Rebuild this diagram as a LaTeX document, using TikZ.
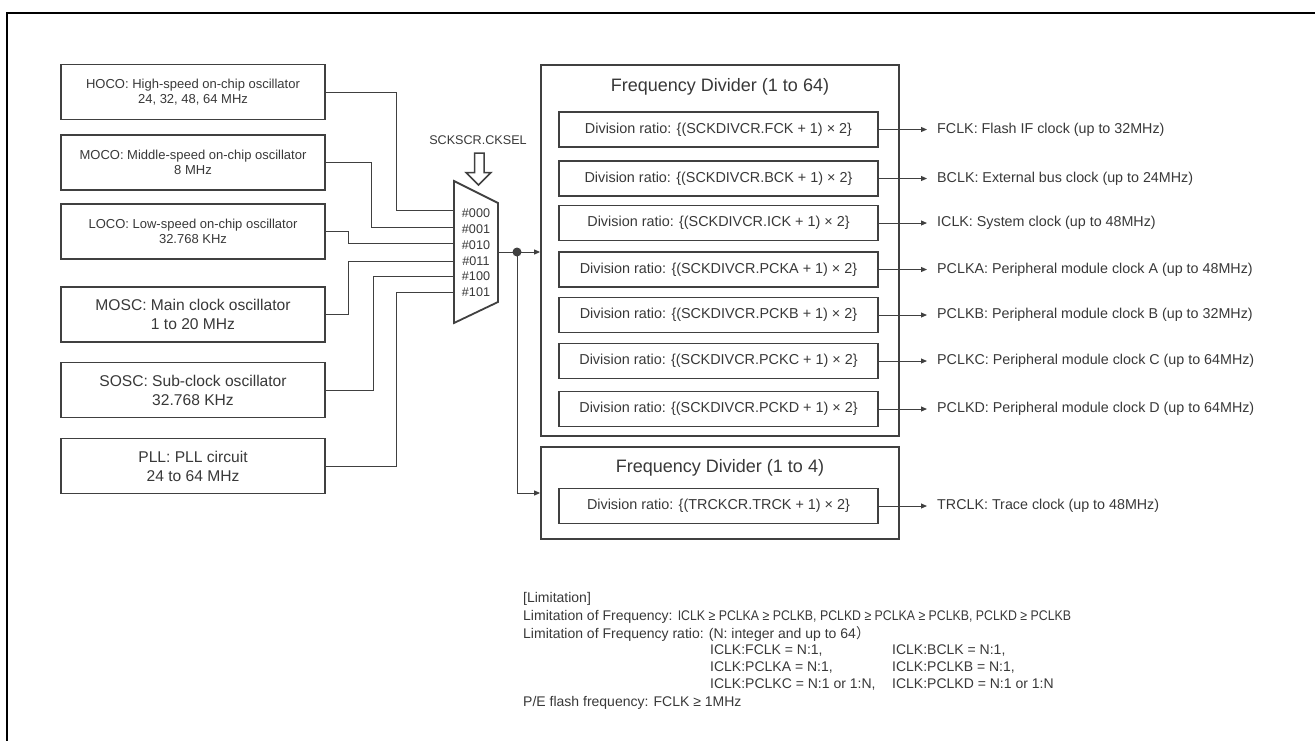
\documentclass[tikz,border=0pt]{standalone}
\usepackage{fontspec}
\setmainfont{Liberation Sans}
\newfontfamily\cjk{Noto Sans CJK SC}
\usetikzlibrary{arrows.meta,calc}
\definecolor{ln}{HTML}{404040}
\definecolor{tx}{HTML}{383838}
\begin{document}
\begin{tikzpicture}[x=1pt,y=-1pt,
 box/.style={draw=ln, line width=1.8pt, inner sep=0pt, text=tx, align=center},
 osc/.style={box, minimum width=264pt, minimum height=55pt},
 smallf/.style={font=\fontsize{13}{15.5}\selectfont},
 bigf/.style={font=\fontsize{15.6}{19}\selectfont},
 divbox/.style={box, minimum width=319pt, minimum height=35pt, font=\fontsize{14.4}{16}\selectfont},
 frame/.style={draw=ln, line width=1.8pt, minimum width=358pt, inner sep=0pt},
 ttl/.style={text=tx, inner sep=0pt, font=\fontsize{18}{20}\selectfont},
 wire/.style={draw=ln, line width=1pt},
 arr/.style={wire, -{Triangle[length=6pt,width=5pt]}},
 outl/.style={anchor=west, text=tx, font=\fontsize{14.3}{16}\selectfont, inner sep=0pt},
 lim/.style={anchor=base west, text=tx, font=\fontsize{14}{16}\selectfont, inner sep=0pt},
 sel/.style={text=tx, font=\fontsize{12.6}{14}\selectfont, inner sep=0pt},
]
\useasboundingbox (0,0) rectangle (1315,740);
% outer frame
\draw[black, line width=2.5pt] (7,742) -- (7,13) -- (1317,13);

% oscillators
\node[osc, smallf] (hoco) at (193,92) {HOCO: High-speed on-chip oscillator\\24, 32, 48, 64 MHz};
\node[osc, smallf] (moco) at (193,162.5) {MOCO: Middle-speed on-chip oscillator\\8 MHz};
\node[osc, smallf] (loco) at (193,231.5) {LOCO: Low-speed on-chip oscillator\\32.768 KHz};
\node[osc, bigf] (mosc) at (193,314.5) {MOSC: Main clock oscillator\\1 to 20 MHz};
\node[osc, bigf] (sosc) at (193,390) {SOSC: Sub-clock oscillator\\32.768 KHz};
\node[osc, bigf] (pll) at (193,466) {PLL: PLL circuit\\24 to 64 MHz};

% multiplexer
\coordinate (mtl) at (454,181);
\coordinate (mtr) at (498,203);
\coordinate (mbr) at (498,302);
\coordinate (mbl) at (454,323);
\draw[ln, line width=1.8pt, fill=white] (mtl) -- (mtr) -- (mbr) -- (mbl) -- cycle;
\coordinate (in0) at (454,210);
\coordinate (in1) at (454,227);
\coordinate (in2) at (454,243);
\coordinate (in3) at (454,261);
\coordinate (in4) at (454,276);
\coordinate (in5) at (454,292);
\node[sel] (s0) at (476,213) {\#000};
\node[sel] (s1) at (476,229) {\#001};
\node[sel] (s2) at (476,245.5) {\#010};
\node[sel] (s3) at (476,261) {\#011};
\node[sel] (s4) at (476,276) {\#100};
\node[sel] (s5) at (476,292) {\#101};
\node[sel] (cksel) at (478,140) {SCKSCR.CKSEL};
\draw[ln, line width=1.5pt, fill=white] (474.5,153) -- (484,153) -- (484,172.5) -- (491,172.5) -- (478.5,185) -- (466,172.5) -- (474.5,172.5) -- cycle;

% inputs
\draw[wire] (hoco.east) -- ++(71,0) |- (in0);
\draw[wire] (moco.east) -- ++(46,0) |- (in1);
\draw[wire] (loco.east) -- ++(23,0) |- (in2);
\draw[wire] (mosc.east) -- ++(23,0) |- (in3);
\draw[wire] (sosc.east) -- ++(48,0) |- (in4);
\draw[wire] (pll.east) -- ++(71,0) |- (in5);

% dividers
\node[frame, minimum height=371pt] (div1) at (720,250.5) {};
\node[frame, minimum height=92pt] (div2) at (720,493) {};
\node[ttl] (t1) at (720,87) {Frequency Divider (1 to 64)};
\node[ttl] (t2) at (720,468) {Frequency Divider (1 to 4)};

\node[divbox] (d1) at (718.5,129.5) {Division ratio: \{(SCKDIVCR.FCK + 1) × 2\}};
\node[divbox] (d2) at (718.5,178.5) {Division ratio: \{(SCKDIVCR.BCK + 1) × 2\}};
\node[divbox] (d3) at (718.5,223) {Division ratio: \{(SCKDIVCR.ICK + 1) × 2\}};
\node[divbox] (d4) at (718.5,269.5) {Division ratio: \{(SCKDIVCR.PCKA + 1) × 2\}};
\node[divbox] (d5) at (718.5,315) {Division ratio: \{(SCKDIVCR.PCKB + 1) × 2\}};
\node[divbox] (d6) at (718.5,361) {Division ratio: \{(SCKDIVCR.PCKC + 1) × 2\}};
\node[divbox] (d7) at (718.5,409) {Division ratio: \{(SCKDIVCR.PCKD + 1) × 2\}};
\node[divbox] (d8) at (718.5,506) {Division ratio: \{(TRCKCR.TRCK + 1) × 2\}};

% mux output
\coordinate (mout) at (498,252);
\coordinate (dot) at (517,252);
\draw[wire] (mout) -- (dot);
\fill[ln] (dot) circle (4.5pt);
\draw[arr] (dot) -- (dot -| div1.west);
\draw[arr] (dot) |- (div2.west);

% outputs
\node[outl] (o1) at (937,129.5) {FCLK: Flash IF clock (up to 32MHz)};
\node[outl] (o2) at (937,178.5) {BCLK: External bus clock (up to 24MHz)};
\node[outl] (o3) at (937,223) {ICLK: System clock (up to 48MHz)};
\node[outl] (o4) at (937,269.5) {PCLKA: Peripheral module clock A (up to 48MHz)};
\node[outl] (o5) at (937,315) {PCLKB: Peripheral module clock B (up to 32MHz)};
\node[outl] (o6) at (937,361) {PCLKC: Peripheral module clock C (up to 64MHz)};
\node[outl] (o7) at (937,409) {PCLKD: Peripheral module clock D (up to 64MHz)};
\node[outl] (o8) at (937,506) {TRCLK: Trace clock (up to 48MHz)};
\foreach \i in {1,...,8}{
  \draw[arr] (d\i.east) -- ($(o\i.west)+(-10,0)$);
}

% limitation text
\node[lim] (l1) at (523,602) {[Limitation]};
\node[lim] (l2) at (523,620) {Limitation of Frequency: \scalebox{0.88}[1]{ICLK ≥ PCLKA ≥ PCLKB, PCLKD ≥ PCLKA ≥ PCLKB, PCLKD ≥ PCLKB}};
\node[lim] (l3) at (523,638) {Limitation of Frequency ratio: (N: integer and up to 64{\cjk ）}};
\node[lim] (l4a) at (710,654) {ICLK:FCLK = N:1,};
\node[lim] (l4b) at (892,654) {ICLK:BCLK = N:1,};
\node[lim] (l5a) at (710,671) {ICLK:PCLKA = N:1,};
\node[lim] (l5b) at (892,671) {ICLK:PCLKB = N:1,};
\node[lim] (l6a) at (710,688) {ICLK:PCLKC = N:1 or 1:N,};
\node[lim] (l6b) at (892,688) {ICLK:PCLKD = N:1 or 1:N};
\node[lim] (l7) at (523,706) {P/E flash frequency: FCLK ≥ 1MHz};
\end{tikzpicture}
\end{document}
